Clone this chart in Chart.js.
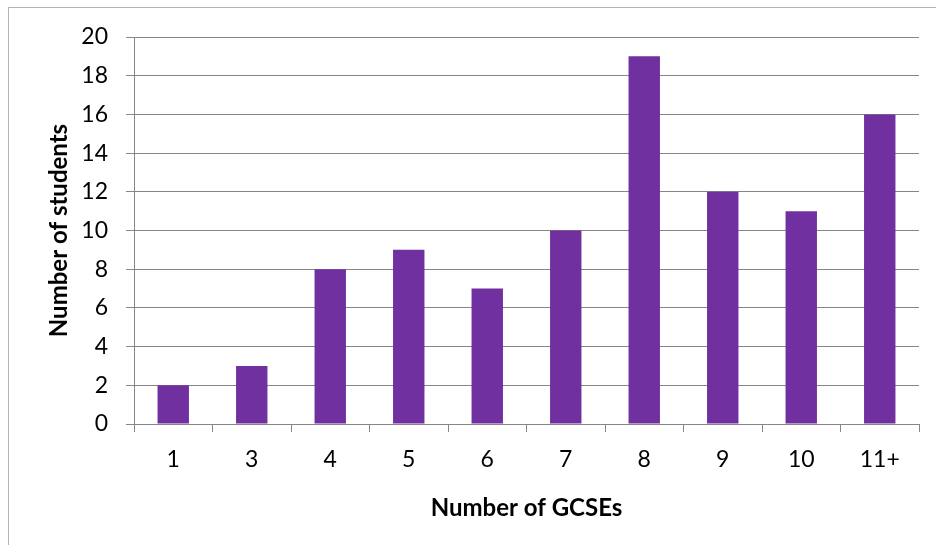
<!DOCTYPE html>
<html>
<head>
<meta charset="utf-8">
<script src="https://cdn.jsdelivr.net/npm/chart.js@4"></script>
<style>
  html, body { margin: 0; padding: 0; background: #fff; }
  #wrap { position: relative; width: 936px; height: 545px; }
</style>
</head>
<body>
<div id="wrap"><canvas id="c" width="936" height="545"></canvas></div>
<script>
const categories = ['1', '3', '4', '5', '6', '7', '8', '9', '10', '11+'];
const students = [2, 3, 8, 9, 7, 10, 19, 12, 11, 16];
const yTicks = [0, 2, 4, 6, 8, 10, 12, 14, 16, 18, 20];
const xTitle = 'Number of GCSEs';
const yTitle = 'Number of students';

const FONT = 'Lato, "Open Sans", sans-serif';
const GRID = '#868686';

const outerBorder = {
  id: 'outerBorder',
  beforeDraw(chart) {
    const ctx = chart.ctx;
    ctx.save();
    ctx.strokeStyle = '#b4b4b4';
    ctx.lineWidth = 1;
    ctx.strokeRect(8.5, 7.5, 1000, 1000);
    ctx.restore();
  }
};

new Chart(document.getElementById('c'), {
  type: 'bar',
  data: {
    labels: categories,
    datasets: [{
      data: students,
      backgroundColor: '#7030A0',
      borderWidth: 0,
      barPercentage: 0.4,
      categoryPercentage: 1.0
    }]
  },
  options: {
    responsive: false,
    animation: false,
    devicePixelRatio: 1,
    layout: { padding: { top: 37, right: 17, left: 0, bottom: 0 } },
    plugins: { legend: { display: false }, tooltip: { enabled: false } },
    scales: {
      x: {
        offset: true,
        grid: {
          offset: true,
          drawOnChartArea: false,
          color: GRID,
          lineWidth: 1,
          tickLength: 8
        },
        border: { color: GRID, width: 1 },
        ticks: { color: '#000', padding: 14, font: { family: FONT, size: 23 } },
        title: {
          display: true,
          text: xTitle,
          color: '#000',
          font: { family: FONT, size: 24, weight: 'bold' },
          padding: { top: 0, bottom: 22 }
        },
        afterFit(scale) { scale.height = 121; }
      },
      y: {
        min: 0,
        max: 20,
        afterBuildTicks(scale) { scale.ticks = yTicks.map(v => ({ value: v })); },
        grid: { color: GRID, lineWidth: 1, tickLength: 8 },
        border: { color: GRID, width: 1 },
        ticks: { color: '#000', padding: 18, font: { family: FONT, size: 23 } },
        title: {
          display: true,
          text: yTitle,
          color: '#000',
          font: { family: FONT, size: 24, weight: 'bold' },
          padding: { top: 45, bottom: 0 }
        },
        afterFit(scale) { scale.width = 134; }
      }
    }
  },
  plugins: [outerBorder]
});
</script>
</body>
</html>
